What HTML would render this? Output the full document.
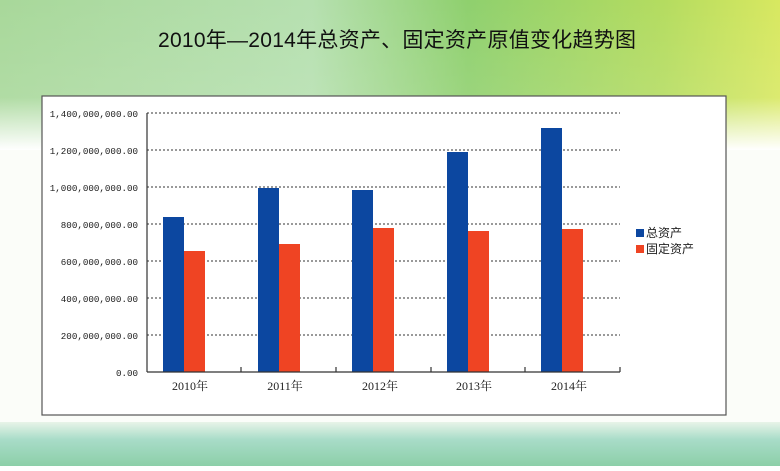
<!DOCTYPE html>
<html><head><meta charset="utf-8"><style>
body{margin:0;width:780px;height:466px;overflow:hidden;font-family:"Liberation Sans","Noto Sans CJK SC",sans-serif;}
</style></head><body>
<svg width="780" height="466" xmlns="http://www.w3.org/2000/svg">
<defs>
<linearGradient id="top" x1="0" y1="0" x2="1" y2="0">
<stop offset="0" stop-color="#a8d89a"/><stop offset="0.4" stop-color="#b6e0b0"/><stop offset="0.6" stop-color="#8fd06e"/><stop offset="0.85" stop-color="#b4dc60"/><stop offset="1" stop-color="#d8e860"/></linearGradient>
<linearGradient id="fade" x1="0" y1="0" x2="0" y2="1">
<stop offset="0" stop-color="#fff" stop-opacity="0"/><stop offset="0.65" stop-color="#fff" stop-opacity="0.1"/><stop offset="1" stop-color="#fff" stop-opacity="1"/></linearGradient>
<linearGradient id="bot" x1="0" y1="0" x2="0" y2="1">
<stop offset="0" stop-color="#e8f4e8"/><stop offset="0.4" stop-color="#a8dcc8"/><stop offset="1" stop-color="#8ccfa8"/></linearGradient>
</defs>
<rect width="780" height="466" fill="#fbfdf9"/>
<rect width="780" height="150" fill="url(#top)"/>
<rect width="780" height="150" fill="url(#fade)"/>
<rect y="422" width="780" height="44" fill="url(#bot)"/>
<text x="397" y="47" font-size="21" text-anchor="middle" fill="#111" textLength="478">2010年—2014年总资产、固定资产原值变化趋势图</text>
<rect x="42" y="96" width="684" height="319" fill="#fff" stroke="#555" stroke-width="1.2"/>
<g stroke="#333" stroke-width="1" stroke-dasharray="2,2">
<line x1="147" y1="113" x2="620" y2="113"/><line x1="147" y1="150" x2="620" y2="150"/>
<line x1="147" y1="187" x2="620" y2="187"/><line x1="147" y1="224" x2="620" y2="224"/>
<line x1="147" y1="261" x2="620" y2="261"/><line x1="147" y1="298" x2="620" y2="298"/>
<line x1="147" y1="335" x2="620" y2="335"/></g>
<g font-family="Liberation Mono,monospace" font-size="9.2" fill="#222" text-anchor="end">
<text x="138" y="117">1,400,000,000.00</text><text x="138" y="154">1,200,000,000.00</text>
<text x="138" y="191">1,000,000,000.00</text><text x="138" y="228">800,000,000.00</text>
<text x="138" y="265">600,000,000.00</text><text x="138" y="302">400,000,000.00</text>
<text x="138" y="339">200,000,000.00</text><text x="138" y="376">0.00</text></g>
<g fill="#0c47a0">
<rect x="163" y="217" width="21" height="155"/><rect x="258" y="188" width="21" height="184"/>
<rect x="352" y="190" width="21" height="182"/><rect x="447" y="152" width="21" height="220"/>
<rect x="541" y="128" width="21" height="244"/></g>
<g fill="#ef4423">
<rect x="184" y="251" width="21" height="121"/><rect x="279" y="244" width="21" height="128"/>
<rect x="373" y="228" width="21" height="144"/><rect x="468" y="231" width="21" height="141"/>
<rect x="562" y="229" width="21" height="143"/></g>
<g stroke="#333" stroke-width="1.2">
<line x1="147" y1="113" x2="147" y2="372"/><line x1="147" y1="372" x2="620" y2="372"/>
<line x1="241" y1="372" x2="241" y2="367"/><line x1="336" y1="372" x2="336" y2="367"/>
<line x1="431" y1="372" x2="431" y2="367"/><line x1="525" y1="372" x2="525" y2="367"/>
<line x1="620" y1="372" x2="620" y2="367"/></g>
<g font-family="Liberation Serif,'Noto Serif CJK SC',serif" font-size="12" fill="#222" text-anchor="middle">
<text x="190" y="390">2010年</text><text x="285" y="390">2011年</text><text x="380" y="390">2012年</text>
<text x="474" y="390">2013年</text><text x="569" y="390">2014年</text></g>
<rect x="636" y="229" width="8" height="8" fill="#0c47a0"/>
<rect x="636" y="245" width="8" height="8" fill="#ef4423"/>
<text x="646" y="237" font-size="12" fill="#222">总资产</text>
<text x="646" y="253" font-size="12" fill="#222">固定资产</text>
</svg>
</body></html>
